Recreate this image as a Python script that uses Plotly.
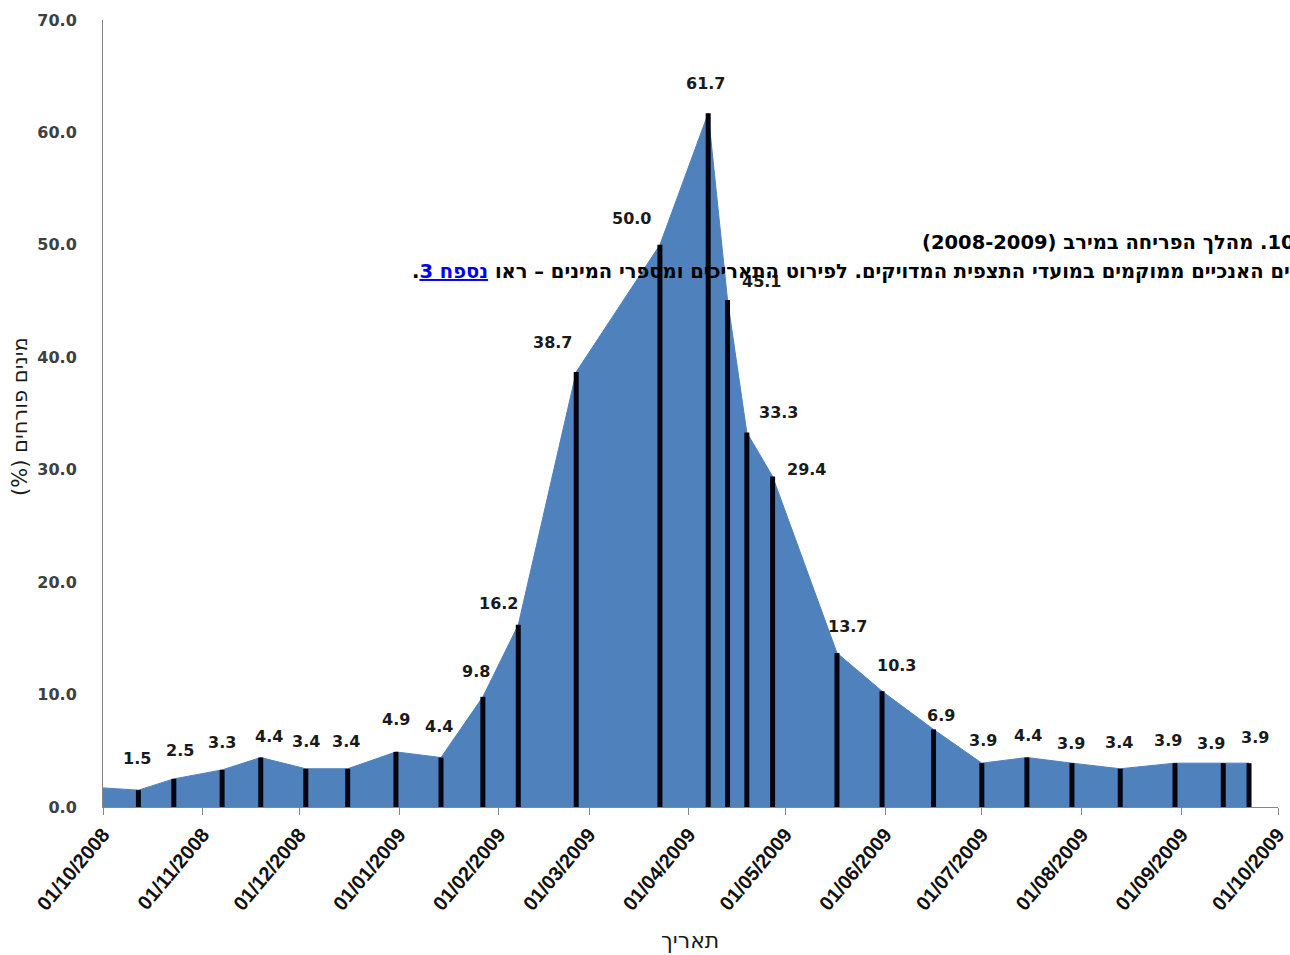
import plotly.graph_objects as go

# ---------------- data ----------------
obs_dates = ["2008-10-12", "2008-10-23", "2008-11-07", "2008-11-19", "2008-12-03",
             "2008-12-16", "2008-12-31", "2009-01-14", "2009-01-27", "2009-02-07",
             "2009-02-25", "2009-03-23", "2009-04-07", "2009-04-13", "2009-04-19",
             "2009-04-27", "2009-05-17", "2009-05-31", "2009-06-16", "2009-07-01",
             "2009-07-15", "2009-07-29", "2009-08-13", "2009-08-30", "2009-09-14",
             "2009-09-22"]
flowering_pct = [1.5, 2.5, 3.3, 4.4, 3.4, 3.4, 4.9, 4.4, 9.8, 16.2, 38.7, 50.0, 61.7,
                 45.1, 33.3, 29.4, 13.7, 10.3, 6.9, 3.9, 4.4, 3.9, 3.4, 3.9, 3.9, 3.9]
area_start_date = "2008-10-01"
area_start_value = 1.7

tick_dates = ["2008-10-01", "2008-11-01", "2008-12-01", "2009-01-01", "2009-02-01",
              "2009-03-01", "2009-04-01", "2009-05-01", "2009-06-01", "2009-07-01",
              "2009-08-01", "2009-09-01", "2009-10-01"]
tick_labels = ["01/10/2008", "01/11/2008", "01/12/2008", "01/01/2009", "01/02/2009",
               "01/03/2009", "01/04/2009", "01/05/2009", "01/06/2009", "01/07/2009",
               "01/08/2009", "01/09/2009", "01/10/2009"]

y_title = "מינים פורחים (%)"
x_title = "תאריך"
caption_1 = "איור 10. מהלך הפריחה במירב (2008-2009)"
caption_2_pre = "הקווים האנכיים ממוקמים במועדי התצפית המדויקים. לפירוט התאריכים ומספרי המינים – ראו "
caption_2_link = "נספח 3"
caption_2_post = "."

# label offsets in pixels (style only): (dx, dy)
label_shift = [(-1, 32), (6, 28), (0, 27), (8, 21), (0, 27), (-2, 27), (0, 32), (-2, 31),
               (-7, 25), (-20, 21), (-24, 29), (-28, 26), (-3, 30), (34, 18), (32, 20),
               (34, 7), (11, 26), (14, 26), (7, 14), (1, 23), (1, 22), (-1, 20), (-1, 26),
               (-7, 23), (-12, 20), (6, 26)]

# ---------------- figure ----------------
W, H = 1290, 955
ML, MR, MT, MB = 103, 12, 20, 148
PW = W - ML - MR
PH = H - MT - MB

RLE, PDF = "\u202B", "\u202C"

fig = go.Figure()

fig.add_trace(go.Scatter(
    x=[area_start_date] + obs_dates,
    y=[area_start_value] + flowering_pct,
    mode="lines", fill="tozeroy",
    line=dict(color="#4F81BD", width=1),
    fillcolor="#4F81BD",
    hoverinfo="skip", showlegend=False,
))

# vertical drop bars from the observations
bx, by = [], []
for d, v in zip(obs_dates, flowering_pct):
    bx += [d, d, None]
    by += [0, v, None]
fig.add_trace(go.Scatter(
    x=bx, y=by, mode="lines",
    line=dict(color="#050510", width=5),
    hoverinfo="skip", showlegend=False,
))

annotations = []
for d, v, (dx, dy) in zip(obs_dates, flowering_pct, label_shift):
    annotations.append(dict(
        x=d, y=v, xref="x", yref="y", text=f"{v:.1f}", showarrow=False,
        xanchor="center", yanchor="middle", xshift=dx, yshift=dy,
        font=dict(family="DejaVu Sans", size=16, color="#1a1a1a", weight="bold"),
    ))

def px_to_paper_x(px):
    return (px - ML) / PW

def px_to_paper_y(py):
    return (H - MB - py) / PH

annotations.append(dict(
    x=px_to_paper_x(20), y=px_to_paper_y(417), xref="paper", yref="paper",
    text=RLE + y_title + PDF, textangle=-90, showarrow=False,
    xanchor="center", yanchor="middle",
    font=dict(family="DejaVu Sans", size=21, color="#1a1a1a"),
))
annotations.append(dict(
    x=px_to_paper_x(690), y=px_to_paper_y(940), xref="paper", yref="paper",
    text=RLE + x_title + PDF, showarrow=False,
    xanchor="center", yanchor="middle",
    font=dict(family="DejaVu Sans", size=22, color="#1a1a1a"),
))
annotations.append(dict(
    x=px_to_paper_x(920), y=px_to_paper_y(242), xref="paper", yref="paper",
    text=RLE + caption_1 + PDF, showarrow=False,
    xanchor="left", yanchor="middle",
    font=dict(family="DejaVu Sans", size=19.5, color="#000000", weight="bold"),
))
annotations.append(dict(
    x=px_to_paper_x(410), y=px_to_paper_y(271), xref="paper", yref="paper",
    text=(RLE + caption_2_pre
          + '<span style="color:#0000EE;text-decoration:underline">' + caption_2_link + "</span>"
          + caption_2_post + PDF),
    showarrow=False, xanchor="left", yanchor="middle",
    font=dict(family="DejaVu Sans", size=19.5, color="#000000", weight="bold"),
))

fig.update_layout(
    width=W, height=H,
    margin=dict(l=ML, r=MR, t=MT, b=MB, pad=0, autoexpand=False),
    paper_bgcolor="white", plot_bgcolor="white",
    showlegend=False,
    annotations=annotations,
    xaxis=dict(
        type="date", range=["2008-10-01", "2009-10-01"], automargin=False,
        tickmode="array", tickvals=tick_dates, ticktext=tick_labels,
        tickangle=-50, ticks="outside", ticklen=7, tickcolor="#868686",
        showline=True, linecolor="#868686", linewidth=1,
        showgrid=False, zeroline=False,
        tickfont=dict(family="Liberation Sans", size=20, color="#111111", weight="bold"),
    ),
    yaxis=dict(
        range=[0, 70], tickmode="linear", tick0=0, dtick=10, tickformat=".1f",
        automargin=False,
        showline=True, linecolor="#868686", linewidth=1,
        showgrid=False, zeroline=False, ticks="",
        ticklabelstandoff=22,
        tickfont=dict(family="DejaVu Sans", size=16, color="#404040", weight="bold"),
    ),
)

fig.write_html("out.html")
